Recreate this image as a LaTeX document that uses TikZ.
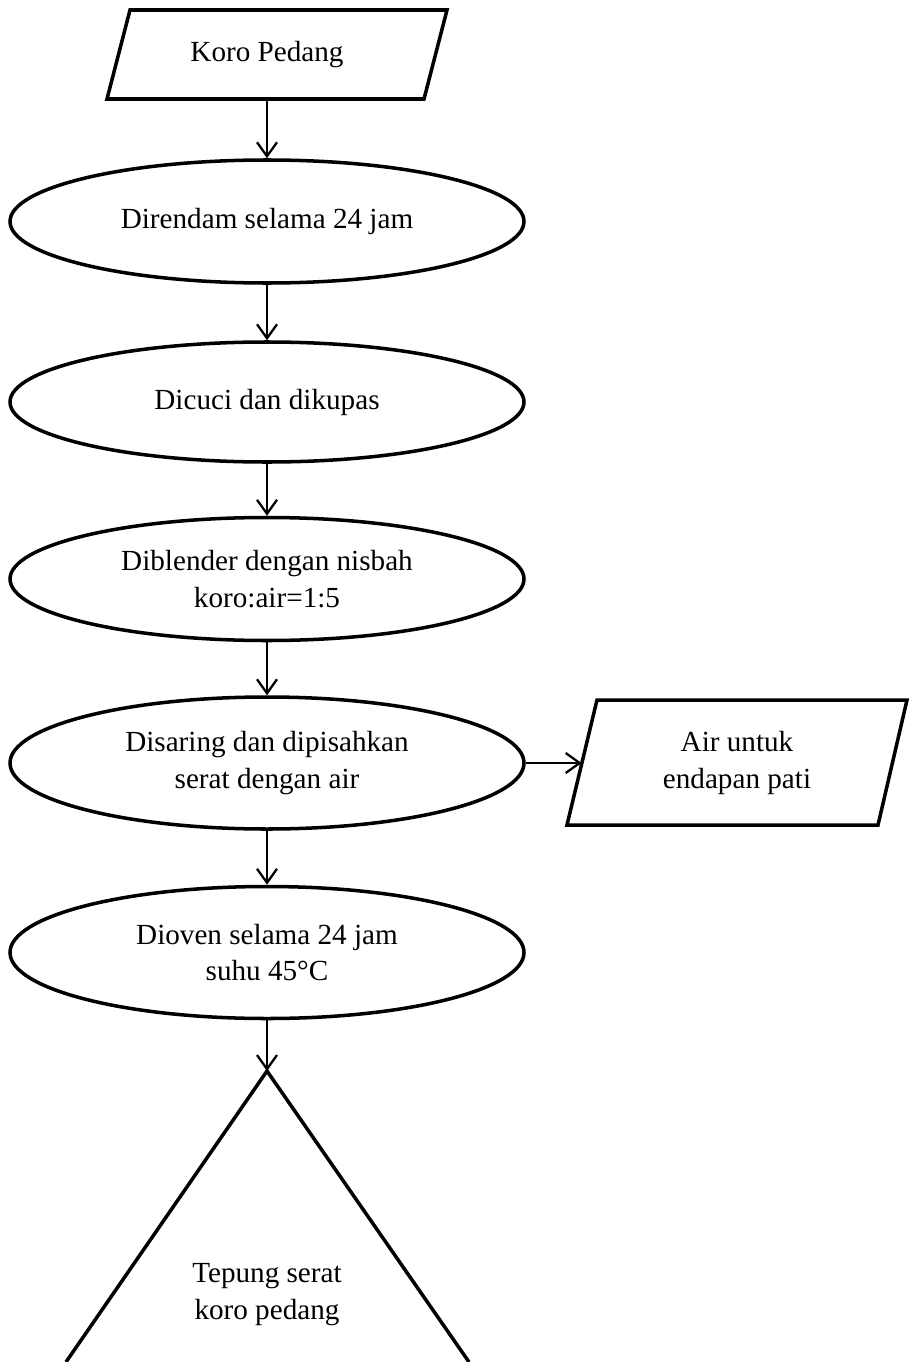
\documentclass[tikz,border=0pt]{standalone}
\usepackage{fontspec}
\setmainfont{Liberation Serif}
\usetikzlibrary{shapes.geometric,arrows.meta}
\begin{document}
\begin{tikzpicture}[x=0.02cm,y=-0.02cm,
  every node/.style={font=\fontsize{16.6}{21}\selectfont, align=center},
  procbox/.style={ellipse, draw, line width=2pt, minimum width=514*0.02cm, inner sep=0pt},
  ghost/.style={draw=none, inner sep=0pt},
  shapeline/.style={line width=2pt, line join=miter},
  flow/.style={line width=1.3pt, -{Straight Barb[length=0.28cm,width=0.4cm,line width=1.3pt]}}
]
\useasboundingbox (0,0) rectangle (912,1362);
% top input parallelogram
\node[ghost, minimum height=89*0.02cm, minimum width=200*0.02cm] (in) at (267,54.5) {Koro Pedang};
\draw[shapeline] (130,10) -- (447,10) -- (424,99) -- (107,99) -- cycle;
% process ellipses
\node[procbox, minimum height=123*0.02cm] (e1) at (267,221.5) {Direndam selama 24 jam};
\node[procbox, minimum height=120*0.02cm] (e2) at (267,402) {Dicuci dan dikupas};
\node[procbox, minimum height=123*0.02cm] (e3) at (267,579) {Diblender dengan nisbah\\koro:air=1:5};
\node[procbox, minimum height=132*0.02cm] (e4) at (267,763) {Disaring dan dipisahkan\\serat dengan air};
\node[procbox, minimum height=132*0.02cm] (e5) at (267,952.5) {Dioven selama 24 jam\\suhu 45°C};
% side output parallelogram
\node[ghost, minimum height=125*0.02cm, minimum width=310*0.02cm] (out) at (737,763) {Air untuk\\endapan pati};
\draw[shapeline] (597,700) -- (907,700) -- (878,825) -- (567,825) -- cycle;
% final triangle
\coordinate (apex) at (267,1071);
\draw[shapeline] (66,1362) -- (apex) -- (469,1362);
\node[ghost] (prod) at (267,1295) {Tepung serat\\koro pedang};
% connectors
\draw[flow] (in.south) -- (e1.north);
\draw[flow] (e1.south) -- (e2.north);
\draw[flow] (e2.south) -- (e3.north);
\draw[flow] (e3.south) -- (e4.north);
\draw[flow] (e4.south) -- (e5.north);
\draw[flow] (e4.east) -- (out.west);
\draw[flow] (e5.south) -- (apex);
\end{tikzpicture}
\end{document}
